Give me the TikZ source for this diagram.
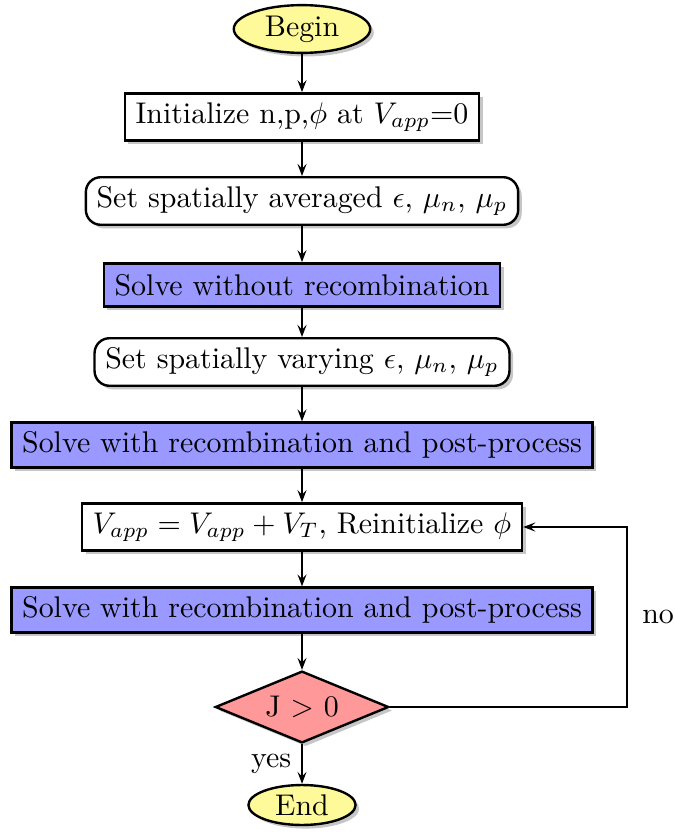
\documentclass[tikz,border=0pt]{standalone}
\usetikzlibrary{shapes.geometric,shadows,arrows.meta}
\begin{document}
\begin{tikzpicture}[x=0.3344pt,y=-0.3344pt,
  base/.style={draw=black, thick, drop shadow={opacity=0.45,shadow xshift=1.2pt,shadow yshift=-1.2pt}, inner xsep=3.6pt, inner ysep=3pt, minimum height=14.5pt},
  term/.style={draw=black, thick, drop shadow={opacity=0.45,shadow xshift=1.2pt,shadow yshift=-1.2pt}, ellipse, fill=yellow!40, inner xsep=3.7pt, inner ysep=1.2pt},
  plainbox/.style={base, rectangle, fill=white},
  roundbox/.style={base, rectangle, rounded corners=5pt, fill=white},
  solvebox/.style={base, rectangle, fill=blue!40},
  decide/.style={draw=black, thick, drop shadow={opacity=0.45,shadow xshift=1.2pt,shadow yshift=-1.2pt}, diamond, aspect=2.4, fill=red!40, inner sep=1pt, minimum width=58pt, minimum height=24pt},
  conn/.style={semithick, -{Stealth[length=4pt,width=3pt,inset=1.5pt]}}]
\useasboundingbox (0,0) rectangle (674,833);
\node[term] (begin) at (302,29) {Begin};
\node[plainbox] (init) at (302,117) {Initialize n,p,$\phi$ at $V_{app}$=0};
\node[roundbox] (avg) at (302,201) {Set spatially averaged $\epsilon$, $\mu_n$, $\mu_p$};
\node[solvebox] (solve0) at (302,285) {Solve without recombination};
\node[roundbox] (vary) at (302,362) {Set spatially varying $\epsilon$, $\mu_n$, $\mu_p$};
\node[solvebox] (solve1) at (302,445) {Solve with recombination and post-process};
\node[plainbox] (vapp) at (302,527) {$V_{app}=V_{app}+V_T$, Reinitialize $\phi$};
\node[solvebox] (solve2) at (302,610) {Solve with recombination and post-process};
\node[decide] (dec) at (302,707) {J $>$ 0};
\node[term] (end) at (302,805) {End};
\coordinate (c1) at (627,707);
\coordinate (c2) at (627,527);
\draw[conn] (begin) -- (init);
\draw[conn] (init) -- (avg);
\draw[conn] (avg) -- (solve0);
\draw[conn] (solve0) -- (vary);
\draw[conn] (vary) -- (solve1);
\draw[conn] (solve1) -- (vapp);
\draw[conn] (vapp) -- (solve2);
\draw[conn] (solve2) -- (dec);
\draw[conn] (dec) -- node[left] {yes} (end);
\draw[conn] (dec.east) -- (c1) -- node[pos=0.5, right=1.5pt] {no} (c2) -- (vapp.east);
\end{tikzpicture}
\end{document}
